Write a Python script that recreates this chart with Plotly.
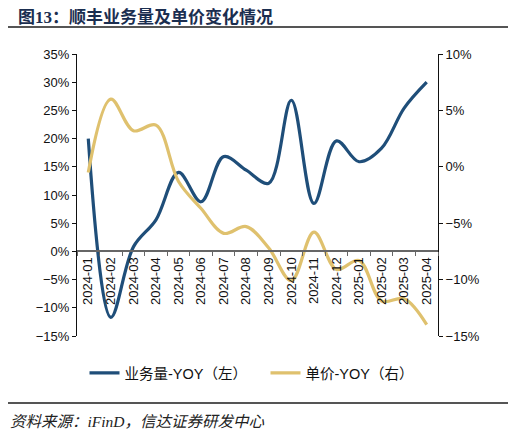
import plotly.graph_objects as go

# 数据
months = ["2024-01", "2024-02", "2024-03", "2024-04", "2024-05", "2024-06",
          "2024-07", "2024-08", "2024-09", "2024-10", "2024-11", "2024-12",
          "2025-01", "2025-02", "2025-03", "2025-04"]
volume_yoy = [20.0, -11.7, 0.8, 5.6, 14.0, 8.8, 16.8, 14.4, 12.1, 26.8,
              8.5, 19.6, 15.9, 18.3, 25.4, 30.0]
price_yoy = [-0.5, 6.0, 3.2, 3.7, -1.3, -3.7, -5.9, -5.3, -7.2, -10.1,
             -5.8, -9.1, -8.3, -11.9, -11.7, -14.0]

# the page body has an 8px margin, so work in shifted pixel coords
OFF = 8
W, H = 516 - OFF, 435 - OFF
L, R, T, B = 77 - OFF, 516 - 438, 54 - OFF, 435 - 336
plot_w = W - L - R
plot_h = H - T - B

BLUE = "#1F4E79"
TAN = "#DFC16E"
font = "Liberation Sans, Arial, Noto Sans CJK SC"


def px_x(x):
    return (x - OFF - L) / plot_w


def px_y(y):
    return (H - B - (y - OFF)) / plot_h


fig = go.Figure()
fig.add_trace(go.Scatter(x=months, y=volume_yoy, name="业务量-YOY（左）",
                         mode="lines", line=dict(color=BLUE, width=3.2, shape="spline", smoothing=1.0),
                         yaxis="y"))
fig.add_trace(go.Scatter(x=months, y=price_yoy, name="单价-YOY（右）",
                         mode="lines", line=dict(color=TAN, width=3.2, shape="spline", smoothing=1.0),
                         yaxis="y2"))

fig.update_layout(
    width=W, height=H,
    margin=dict(l=L, r=R, t=T, b=B, autoexpand=False),
    paper_bgcolor="white", plot_bgcolor="white",
    font=dict(family=font, size=13, color="#111"),
    showlegend=True,
    legend=dict(orientation="h", x=px_x(265.5), xanchor="center",
                y=px_y(373), yanchor="middle",
                font=dict(size=14.5), entrywidth=136, entrywidthmode="pixels"),
    xaxis=dict(type="category", anchor="free", position=0.3,
               range=[-0.5, len(months) - 0.5],
               showline=True, linecolor="#666", linewidth=1.5,
               ticks="outside", ticklen=4, tickcolor="#666", tickson="boundaries",
               tickangle=-90, tickfont=dict(size=13), showgrid=False, zeroline=False),
    yaxis=dict(range=[-15, 35], dtick=5, ticksuffix="%", showgrid=False, zeroline=False,
               showline=True, linecolor="#111", linewidth=1,
               ticks="outside", ticklen=4, tickcolor="#111"),
    yaxis2=dict(range=[-15, 10], dtick=5, ticksuffix="%", overlaying="y", side="right",
                showgrid=False, zeroline=False,
                showline=True, linecolor="#111", linewidth=1,
                ticks="outside", ticklen=4, tickcolor="#111"),
)

# 标题
fig.add_annotation(text="<b>图13：顺丰业务量及单价变化情况</b>", xref="paper", yref="paper",
                   x=px_x(17), y=px_y(17), xanchor="left", yanchor="middle", showarrow=False,
                   borderpad=0,
                   font=dict(family="Liberation Serif, Noto Sans CJK SC", size=17, color="#1B2E50"))
# 资料来源
fig.add_annotation(text="<i>资料来源：iFinD，信达证券研发中心</i>", xref="paper", yref="paper",
                   x=px_x(8), y=px_y(421), xanchor="left", yanchor="middle", showarrow=False,
                   font=dict(family="Liberation Serif, Noto Sans CJK SC", size=15.5, color="#222"))

# 分隔线
for yy in (27, 403):
    fig.add_shape(type="line", xref="paper", yref="paper",
                  x0=px_x(8), x1=px_x(511), y0=px_y(yy), y1=px_y(yy),
                  line=dict(color="#555", width=2))

fig.write_html("out.html")
